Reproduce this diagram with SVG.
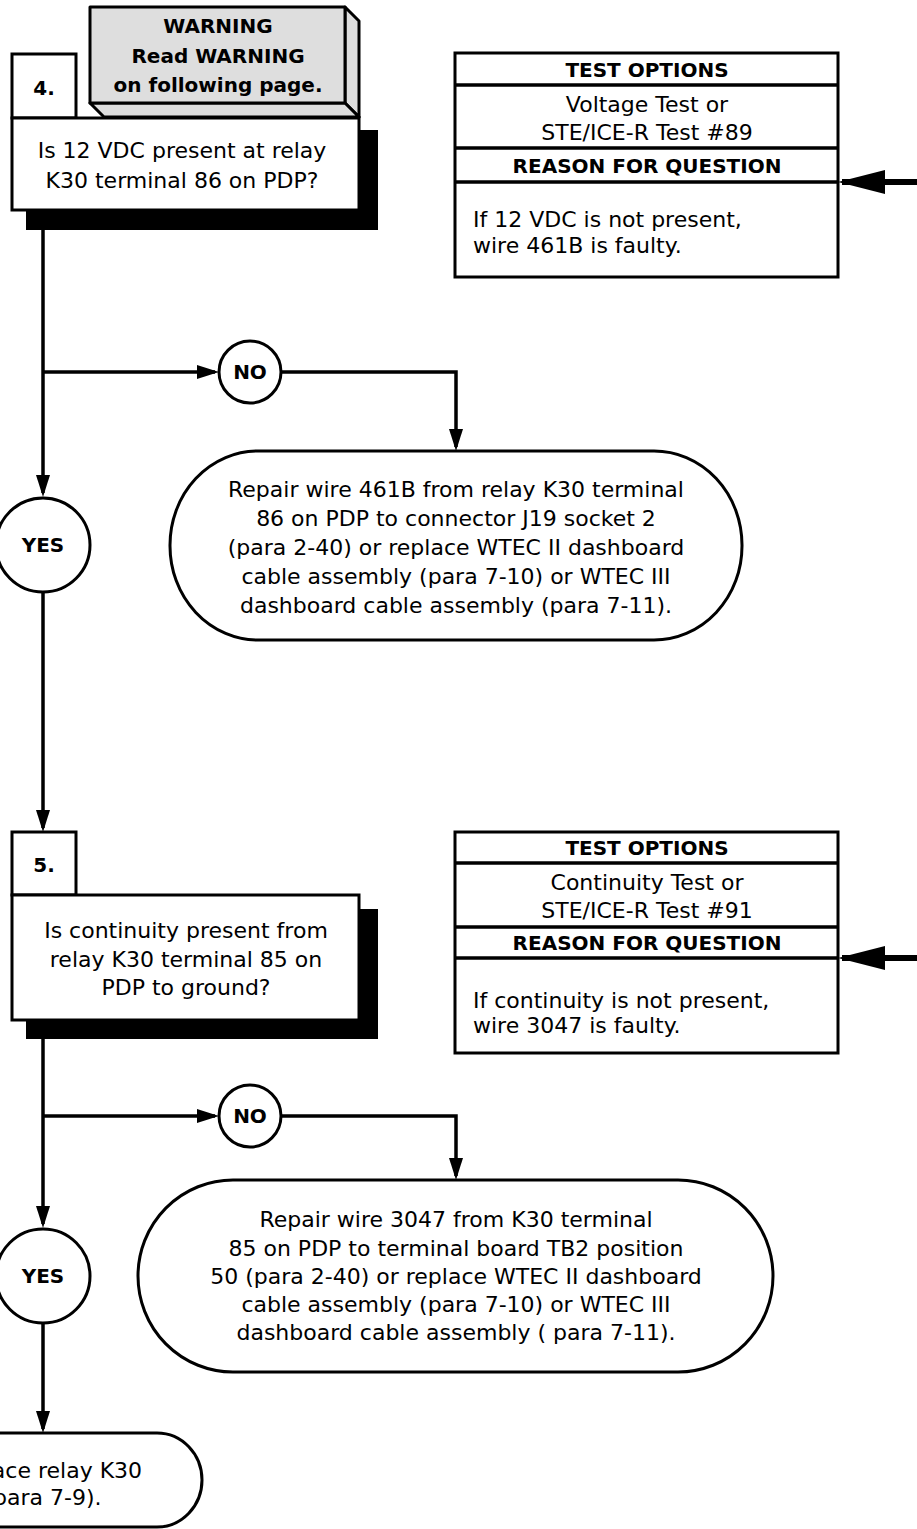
<svg xmlns="http://www.w3.org/2000/svg" width="917" height="1529" viewBox="0 0 917 1529">
<style>
.box{fill:#fff;stroke:#000;stroke-width:3}
.shadow{fill:#000;stroke:none}
.warn{fill:#dedede;stroke:#000;stroke-width:3;stroke-linejoin:round}
.circ{fill:#fff;stroke:#000;stroke-width:3}
.conn{fill:none;stroke:#000;stroke-width:3.5}
.thick{fill:none;stroke:#000;stroke-width:6}
.div{stroke:#000;stroke-width:3.5}
text{font-family:"DejaVu Sans",Verdana,sans-serif;font-size:22px;fill:#000}
.c{text-anchor:middle}
.b{font-weight:bold;font-size:20px}
</style>
<defs>
<marker id="arr" markerUnits="userSpaceOnUse" markerWidth="22" markerHeight="14" refX="18" refY="7" orient="auto" overflow="visible">
<path d="M0,0 L22,7 L0,14 z" fill="#000"/>
</marker>
<marker id="big" markerUnits="userSpaceOnUse" markerWidth="47" markerHeight="24" refX="43" refY="12" orient="auto" overflow="visible">
<path d="M0,0 L47,12 L0,24 z" fill="#000"/>
</marker>
</defs>

<g id="connectors">
<path class="conn" d="M43,230 V493" marker-end="url(#arr)"/>
<path class="conn" d="M43,372 H215" marker-end="url(#arr)"/>
<path class="conn" d="M281,372 H456 V447" marker-end="url(#arr)"/>
<path class="conn" d="M43,593 V828" marker-end="url(#arr)"/>
<path class="thick" d="M917,182 H842" marker-end="url(#big)"/>
<path class="conn" d="M43,1039 V1224" marker-end="url(#arr)"/>
<path class="conn" d="M43,1116 H215" marker-end="url(#arr)"/>
<path class="conn" d="M281,1116 H456 V1176" marker-end="url(#arr)"/>
<path class="conn" d="M43,1323 V1429" marker-end="url(#arr)"/>
<path class="thick" d="M917,958 H842" marker-end="url(#big)"/>
</g>

<g id="warning">
<polygon class="warn" points="345,7 359,21 359,117 345,103"/>
<polygon class="warn" points="90,103 345,103 359,117 104,117"/>
<rect class="warn" x="90" y="7" width="255" height="96"/>
<text class="c b" x="218" y="33">WARNING</text>
<text class="c b" x="218" y="63">Read WARNING</text>
<text class="c b" x="218" y="92">on following page.</text>
</g>

<g id="step4">
<rect class="shadow" x="26" y="130" width="352" height="100"/>
<rect class="box" x="12" y="54" width="64" height="64"/>
<rect class="box" x="12" y="118" width="347" height="92"/>
<text class="c b" x="44" y="95">4.</text>
<text class="c" x="182" y="158">Is 12 VDC present at relay</text>
<text class="c" x="182" y="188">K30 terminal 86 on PDP?</text>
</g>

<g id="testoptions1">
<rect class="box" x="455" y="53" width="383" height="224"/>
<line class="div" x1="455" y1="85" x2="838" y2="85"/>
<line class="div" x1="455" y1="148" x2="838" y2="148"/>
<line class="div" x1="455" y1="182" x2="838" y2="182"/>
<text class="c b" x="647" y="77">TEST OPTIONS</text>
<text class="c" x="647" y="112">Voltage Test or</text>
<text class="c" x="647" y="140">STE/ICE-R Test #89</text>
<text class="c b" x="647" y="173">REASON FOR QUESTION</text>
<text x="473" y="227">If 12 VDC is not present,</text>
<text x="473" y="253">wire 461B is faulty.</text>
</g>

<g id="no1">
<circle class="circ" cx="250" cy="372" r="31"/>
<text class="c b" x="250" y="379">NO</text>
</g>

<g id="yes1">
<circle class="circ" cx="43" cy="545" r="47"/>
<text class="c b" x="43" y="552">YES</text>
</g>

<g id="repair1">
<rect class="box" x="170" y="451" width="572" height="189" rx="88" ry="94"/>
<text class="c" x="456" y="497">Repair wire 461B from relay K30 terminal</text>
<text class="c" x="456" y="526">86 on PDP to connector J19 socket 2</text>
<text class="c" x="456" y="555">(para 2-40) or replace WTEC II dashboard</text>
<text class="c" x="456" y="584">cable assembly (para 7-10) or WTEC III</text>
<text class="c" x="456" y="613">dashboard cable assembly (para 7-11).</text>
</g>

<g id="step5">
<rect class="shadow" x="26" y="909" width="352" height="130"/>
<rect class="box" x="12" y="832" width="64" height="63"/>
<rect class="box" x="12" y="895" width="347" height="125"/>
<text class="c b" x="44" y="872">5.</text>
<text class="c" x="186" y="938">Is continuity present from</text>
<text class="c" x="186" y="967">relay K30 terminal 85 on</text>
<text class="c" x="186" y="995">PDP to ground?</text>
</g>

<g id="testoptions2">
<rect class="box" x="455" y="832" width="383" height="221"/>
<line class="div" x1="455" y1="863" x2="838" y2="863"/>
<line class="div" x1="455" y1="927" x2="838" y2="927"/>
<line class="div" x1="455" y1="958" x2="838" y2="958"/>
<text class="c b" x="647" y="855">TEST OPTIONS</text>
<text class="c" x="647" y="890">Continuity Test or</text>
<text class="c" x="647" y="918">STE/ICE-R Test #91</text>
<text class="c b" x="647" y="950">REASON FOR QUESTION</text>
<text x="473" y="1008">If continuity is not present,</text>
<text x="473" y="1033">wire 3047 is faulty.</text>
</g>

<g id="no2">
<circle class="circ" cx="250" cy="1116" r="31"/>
<text class="c b" x="250" y="1123">NO</text>
</g>

<g id="yes2">
<circle class="circ" cx="43" cy="1276" r="47"/>
<text class="c b" x="43" y="1283">YES</text>
</g>

<g id="repair2">
<rect class="box" x="138" y="1180" width="635" height="192" rx="95" ry="96"/>
<text class="c" x="456" y="1227">Repair wire 3047 from K30 terminal</text>
<text class="c" x="456" y="1256">85 on PDP to terminal board TB2 position</text>
<text class="c" x="456" y="1284">50 (para 2-40) or replace WTEC II dashboard</text>
<text class="c" x="456" y="1312">cable assembly (para 7-10) or WTEC III</text>
<text class="c" x="456" y="1340">dashboard cable assembly ( para 7-11).</text>
</g>

<g id="replace">
<rect class="box" x="-116" y="1433" width="318" height="94" rx="45" ry="47"/>
<text class="c" x="43" y="1478">Replace relay K30</text>
<text class="c" x="43" y="1505">(para 7-9).</text>
</g>
</svg>
